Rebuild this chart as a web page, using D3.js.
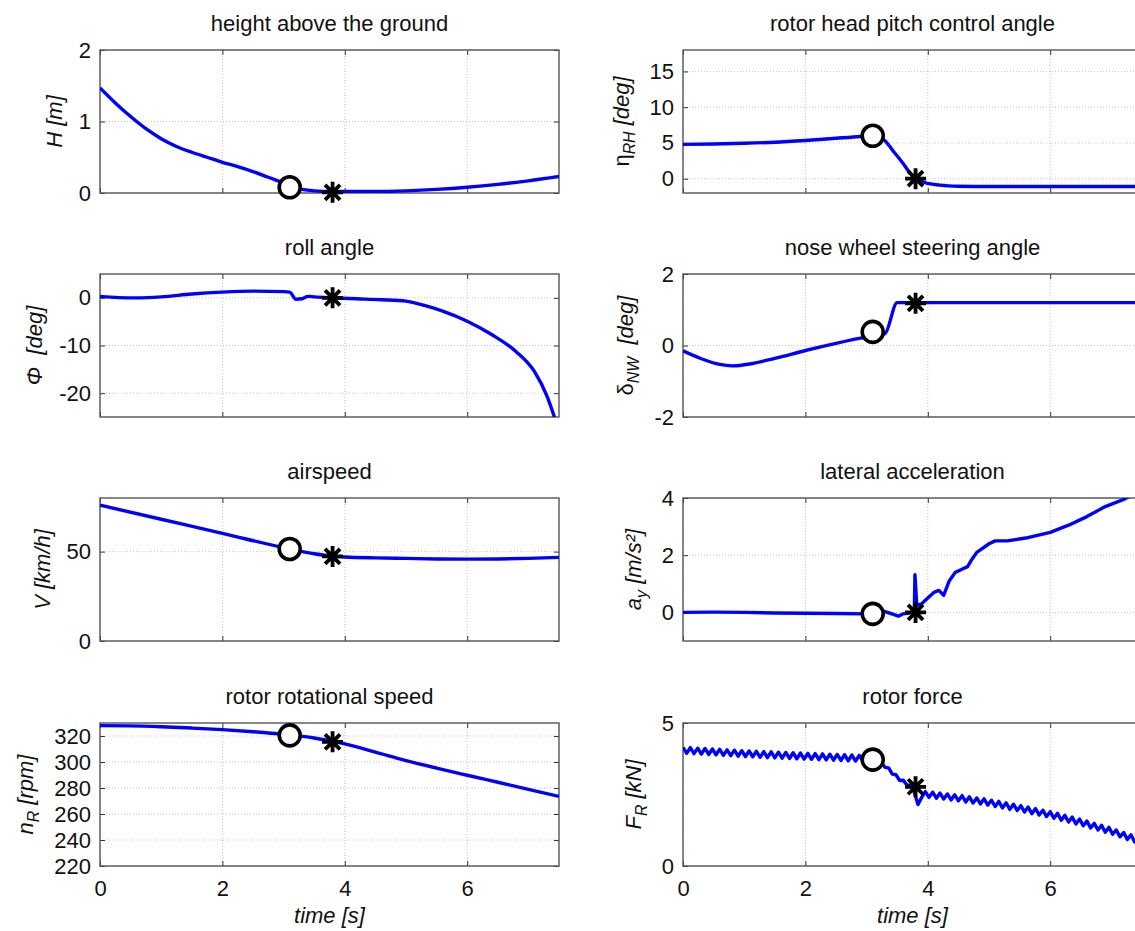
<!DOCTYPE html>
<html>
<head>
<meta charset="utf-8">
<script src="https://cdnjs.cloudflare.com/ajax/libs/d3/7.8.5/d3.min.js"></script>
<style>
  body { margin: 0; background: #fff; }
  svg { display: block; font-family: "Liberation Sans", Arial, sans-serif; }
  .grid line { stroke: #c4c4c4; stroke-width: 1; stroke-dasharray: 1,2; }
  .tick line { stroke: #333; }
</style>
</head>
<body>
<svg id="fig" width="1135" height="931"></svg>
<script>
// DATA
var timeDomain = [0, 7.5];
var timeTicks  = [0, 2, 4, 6];

var heightT = [0, 0.25, 0.5, 0.75, 1.0, 1.25, 1.5, 1.75, 2.0, 2.25, 2.5, 2.75, 3.0, 3.1, 3.25, 3.5, 3.8, 4.0, 4.5, 5.0, 5.5, 6.0, 6.5, 7.0, 7.5];
var heightV = [1.47, 1.26, 1.07, 0.90, 0.76, 0.65, 0.57, 0.50, 0.43, 0.37, 0.30, 0.22, 0.14, 0.10, 0.06, 0.03, 0.02, 0.02, 0.02, 0.03, 0.05, 0.08, 0.12, 0.17, 0.23];

var pitchT = [0, 0.5, 1.0, 1.5, 2.0, 2.5, 2.9, 3.1, 3.2, 3.3, 3.45, 3.6, 3.7, 3.8, 3.9, 4.0, 4.2, 4.5, 5.0, 6.0, 7.5];
var pitchV = [4.8, 4.85, 4.95, 5.1, 5.35, 5.65, 5.9, 6.05, 5.9, 5.3, 3.7, 2.1, 0.9, 0.1, -0.4, -0.65, -0.9, -1.05, -1.1, -1.1, -1.1];

var rollT = [0, 0.3, 0.6, 1.0, 1.5, 2.0, 2.5, 3.0, 3.1, 3.2, 3.3, 3.4, 3.5, 3.8, 4.2, 4.6, 5.0, 5.3, 5.6, 6.0, 6.4, 6.8, 7.1, 7.3, 7.5];
var rollV = [0.3, 0.05, 0, 0.2, 0.8, 1.2, 1.4, 1.3, 1.2, -0.3, -0.2, 0.3, 0.2, 0, -0.2, -0.4, -0.7, -1.6, -2.8, -4.9, -7.7, -11.3, -15.5, -20.5, -28];

var noseT = [0, 0.3, 0.6, 0.8, 1.0, 1.5, 2.0, 2.5, 3.0, 3.3, 3.5, 7.5];
var noseV = [-0.15, -0.37, -0.53, -0.57, -0.54, -0.36, -0.14, 0.06, 0.24, 0.33, 1.2, 1.2];

var speedT = [0, 1.0, 2.0, 3.1, 3.5, 3.8, 4.0, 4.5, 5.0, 5.5, 6.0, 6.5, 7.0, 7.5];
var speedV = [76, 68.1, 60.2, 51.5, 48.8, 47.4, 47.0, 46.5, 46.2, 45.9, 45.8, 45.9, 46.2, 46.8];

var accelT = [0, 0.5, 1.0, 1.5, 2.0, 2.5, 3.0, 3.1, 3.3, 3.45, 3.52, 3.6, 3.7, 3.78, 3.79, 3.82, 3.9, 4.0, 4.1, 4.18, 4.26, 4.35, 4.45, 4.55, 4.65, 4.72, 4.8, 4.9, 5.0, 5.1, 5.3, 5.6, 6.0, 6.3, 6.6, 6.9, 7.2, 7.5];
var accelV = [0.0, 0.01, 0.0, -0.02, -0.03, -0.04, -0.05, -0.05, 0.03, -0.08, -0.13, -0.05, -0.02, 0.05, 1.32, 0.25, 0.3, 0.5, 0.7, 0.77, 0.6, 1.1, 1.4, 1.5, 1.6, 1.85, 2.1, 2.25, 2.4, 2.5, 2.5, 2.6, 2.8, 3.05, 3.35, 3.7, 3.95, 4.3];

var rpmT = [0, 0.5, 1.0, 1.5, 2.0, 2.5, 3.0, 3.5, 3.8, 4.0, 4.5, 5.0, 5.5, 6.0, 6.5, 7.0, 7.5];
var rpmV = [328, 327.8, 327.1, 326.1, 324.9, 323.3, 321.3, 318.5, 315.9, 313.9, 307.6, 301.1, 295.3, 289.8, 284.4, 279.0, 273.5];

// rotor force is sampled every 0.06 s (it oscillates with the blade passage)
var forceStep = 0.06;
var forceV = [
  4.15, 3.94, 4.14, 3.93, 4.12, 3.91, 4.11, 3.90, 4.09, 3.89,
  4.08, 3.87, 4.06, 3.86, 4.05, 3.84, 4.03, 3.83, 4.02, 3.82,
  4.01, 3.80, 4.00, 3.79, 3.99, 3.78, 3.98, 3.77, 3.97, 3.76,
  3.96, 3.75, 3.95, 3.74, 3.94, 3.73, 3.93, 3.72, 3.92, 3.71,
  3.91, 3.70, 3.90, 3.69, 3.89, 3.68, 3.88, 3.67, 3.87, 3.67,
  3.86, 3.64, 3.75, 3.59, 3.62, 3.45, 3.43, 3.21, 3.19, 2.99,
  3.00, 2.82, 2.83, 2.57, 2.15, 2.40, 2.60, 2.40, 2.58, 2.37,
  2.55, 2.34, 2.52, 2.31, 2.49, 2.28, 2.46, 2.24, 2.42, 2.20,
  2.38, 2.17, 2.35, 2.13, 2.30, 2.08, 2.26, 2.03, 2.21, 1.98,
  2.16, 1.94, 2.11, 1.89, 2.06, 1.83, 2.01, 1.78, 1.95, 1.73,
  1.90, 1.67, 1.84, 1.60, 1.77, 1.54, 1.71, 1.47, 1.64, 1.41,
  1.57, 1.33, 1.49, 1.26, 1.42, 1.18, 1.35, 1.11, 1.26, 1.02,
  1.17, 0.93, 1.09, 0.84, 0.99, 0.75
];
var forceT = forceV.map(function(v, i) { return i * forceStep; });

// event markers: circle and asterisk, same times in every panel
var circleTime = 3.1;
var starTime   = 3.8;
var circleVals = [0.08, 6.0, null, 0.38, 51.5, -0.05, 320.5, 3.72];
var starVals   = [0.01, 0.0, 0.0, 1.18, 47.3, 0.0, 315.5, 2.77];

var titles = ['height above the ground', 'rotor head pitch control angle', 'roll angle',
  'nose wheel steering angle', 'airspeed', 'lateral acceleration',
  'rotor rotational speed', 'rotor force'];

var yDomains = [[0, 2], [-2, 18], [-25, 5], [-2, 2], [0, 80], [-1, 4], [220, 330], [0, 5]];
var yTicks = [[0, 1, 2], [0, 5, 10, 15], [-20, -10, 0], [-2, 0, 2], [0, 50], [0, 2, 4],
  [220, 240, 260, 280, 300, 320], [0, 5]];

// ylabel pieces: [text, italic, subscript]
var yLabels = [
  [['H [m]', true, false]],
  [['\u03b7', false, false], ['RH', true, true], [' [deg]', true, false]],
  [['\u03a6  [deg]', true, false]],
  [['\u03b4', false, false], ['NW', true, true], ['  [deg]', true, false]],
  [['V [km/h]', true, false]],
  [['a', true, false], ['y', true, true], [' [m/s\u00b2]', true, false]],
  [['n', true, false], ['R', true, true], [' [rpm]', true, false]],
  [['F', true, false], ['R', true, true], [' [kN]', true, false]]
];

var seriesT = [heightT, pitchT, rollT, noseT, speedT, accelT, rpmT, forceT];
var seriesV = [heightV, pitchV, rollV, noseV, speedV, accelV, rpmV, forceV];
// noisy signals keep straight segments
var jagged = [false, false, false, false, false, true, false, true];

// LAYOUT
var colX = [100, 683];
var rowY = [50, 274, 498, 723];
var plotW = 459, plotH = 143;
var fontSize = 22;

var svg = d3.select('#fig');

var starPath = 'M-10.5,0H10.5M0,-10.5V10.5M-7.5,-7.5L7.5,7.5M-7.5,7.5L7.5,-7.5';
var plainNum = function(d) { return String(d); };

titles.forEach(function(title, i) {
  var col = i % 2, row = Math.floor(i / 2);
  var isBottom = row === 3;

  var g = svg.append('g')
    .attr('transform', 'translate(' + colX[col] + ',' + rowY[row] + ')');

  var x = d3.scaleLinear().domain(timeDomain).range([0, plotW]);
  var y = d3.scaleLinear().domain(yDomains[i]).range([plotH, 0]);

  g.append('clipPath').attr('id', 'clip' + i)
    .append('rect').attr('width', plotW).attr('height', plotH);

  // grid
  var grid = g.append('g').attr('class', 'grid');
  grid.selectAll('.gx').data(timeTicks).enter().append('line')
    .attr('x1', function(d) { return x(d); }).attr('x2', function(d) { return x(d); })
    .attr('y1', 0).attr('y2', plotH);
  grid.selectAll('.gy').data(yTicks[i]).enter().append('line')
    .attr('x1', 0).attr('x2', plotW)
    .attr('y1', function(d) { return y(d); }).attr('y2', function(d) { return y(d); });

  // axes with inward ticks
  g.append('g').attr('transform', 'translate(0,' + plotH + ')')
    .call(d3.axisBottom(x).tickValues(timeTicks).tickSizeInner(-5).tickSizeOuter(0)
      .tickPadding(14).tickFormat(isBottom ? plainNum : function() { return ''; }));
  g.append('g')
    .call(d3.axisTop(x).tickValues(timeTicks).tickSizeInner(-5).tickSizeOuter(0).tickFormat(''));
  var left = g.append('g')
    .call(d3.axisLeft(y).tickValues(yTicks[i]).tickSizeInner(-5).tickSizeOuter(0)
      .tickPadding(9).tickFormat(plainNum));
  g.append('g').attr('transform', 'translate(' + plotW + ',0)')
    .call(d3.axisRight(y).tickValues(yTicks[i]).tickSizeInner(-5).tickSizeOuter(0).tickFormat(''));

  g.selectAll('.domain').remove();
  g.selectAll('.tick text')
    .attr('font-size', fontSize).attr('font-family', '"Liberation Sans", Arial, sans-serif')
    .attr('fill', '#111');

  g.append('rect')
    .attr('width', plotW).attr('height', plotH)
    .attr('fill', 'none').attr('stroke', '#555').attr('stroke-width', 1.4);

  // series
  var pts = seriesT[i].map(function(t, k) { return [t, seriesV[i][k]]; });
  var line = d3.line()
    .x(function(d) { return x(d[0]); })
    .y(function(d) { return y(d[1]); })
    .curve(jagged[i] ? d3.curveLinear : d3.curveMonotoneX);

  g.append('path')
    .datum(pts)
    .attr('clip-path', 'url(#clip' + i + ')')
    .attr('fill', 'none')
    .attr('stroke', '#0000ff')
    .attr('stroke-width', 3.4)
    .attr('stroke-linejoin', 'round')
    .attr('d', line);

  // markers
  if (circleVals[i] !== null) {
    g.append('circle')
      .attr('cx', x(circleTime)).attr('cy', y(circleVals[i])).attr('r', 10.5)
      .attr('fill', '#fff').attr('stroke', '#000').attr('stroke-width', 3.6);
  }
  g.append('path')
    .attr('transform', 'translate(' + x(starTime) + ',' + y(starVals[i]) + ')')
    .attr('d', starPath)
    .attr('stroke', '#000').attr('stroke-width', 3.8).attr('fill', 'none');

  // title
  g.append('text')
    .attr('x', plotW / 2).attr('y', -19)
    .attr('text-anchor', 'middle')
    .attr('font-size', fontSize)
    .attr('fill', '#111')
    .text(title);

  // ylabel, placed left of the widest tick label
  var tickW = d3.max(left.selectAll('.tick text').nodes(), function(n) { return n.getBBox().width; });
  var tickLeft = -9 - tickW;

  var lab = g.append('text')
    .attr('font-size', fontSize)
    .attr('fill', '#111')
    .attr('text-anchor', 'middle')
    .style('white-space', 'pre');
  yLabels[i].forEach(function(part, k) {
    var prevSub = k > 0 && yLabels[i][k - 1][2];
    var ts = lab.append('tspan')
      .attr('font-style', part[1] ? 'italic' : 'normal')
      .text(part[0]);
    if (part[2]) {
      ts.attr('font-size', fontSize * 0.72).attr('dy', 6);
    } else if (prevSub) {
      ts.attr('dy', -6);
    }
  });
  var bb = lab.node().getBBox();
  var base = tickLeft - 12 - (bb.y + bb.height);
  lab.attr('transform', 'translate(' + base + ',' + (plotH / 2) + ') rotate(-90)')
    .attr('x', 0).attr('y', 0);

  if (isBottom) {
    g.append('text')
      .attr('x', plotW / 2).attr('y', plotH + 57)
      .attr('text-anchor', 'middle')
      .attr('font-size', fontSize)
      .attr('font-style', 'italic')
      .attr('fill', '#111')
      .text('time [s]');
  }
});
</script>
</body>
</html>
